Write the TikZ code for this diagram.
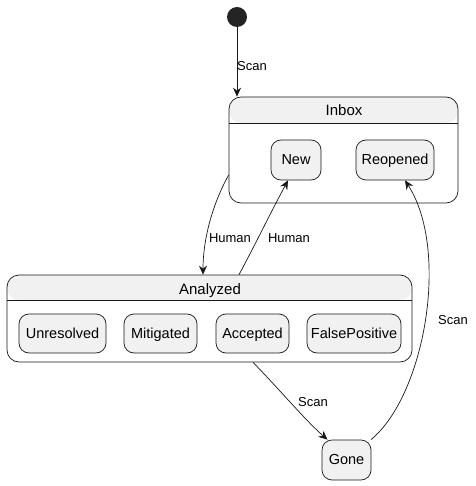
\documentclass[tikz,border=0pt]{standalone}
\usepackage{fontspec}
\setmainfont{Liberation Sans}
\usetikzlibrary{arrows.meta}
\definecolor{stfill}{HTML}{F1F1F1}
\definecolor{stline}{HTML}{181818}
\begin{document}
\begin{tikzpicture}[x=1pt,y=-1pt,
  substate/.style={draw=stline, fill=stfill, line width=0.7pt, rounded corners=10pt,
    minimum height=40pt, inner sep=0pt, text height=10.5pt, text depth=1pt,
    font=\fontsize{14.5}{16}\selectfont},
  composite/.style={draw=stline, fill=white, line width=0.7pt, rounded corners=12pt, inner sep=0pt},
  ctitle/.style={font=\fontsize{15}{17}\selectfont, inner sep=0pt, text height=11pt, text depth=1pt},
  trans/.style={draw=stline, line width=0.7pt, -{Stealth[length=9pt,width=8pt,inset=3pt]}},
  elabel/.style={font=\fontsize{13}{15}\selectfont, inner sep=0pt}
]
\useasboundingbox (0,0) rectangle (475,486);

% start
\node[circle, fill=stline!95, minimum size=20pt, inner sep=0pt] (start) at (237,17) {};

% Inbox composite
\node[composite, minimum width=229pt, minimum height=106pt,
  path picture={\fill[stfill] (path picture bounding box.north west) rectangle ([yshift=-26pt]path picture bounding box.north east);
  \draw[stline, line width=0.7pt] ([yshift=-26pt]path picture bounding box.north west) -- ([yshift=-26pt]path picture bounding box.north east);}]
  (inbox) at (343.5,150) {};
\node[ctitle] (inboxt) at (344,110.5) {Inbox};
\node[substate, minimum width=50pt] (new) at (296,160) {New};
\node[substate, minimum width=78pt] (reopened) at (395,160) {Reopened};

% Analyzed composite
\node[composite, minimum width=405pt, minimum height=87pt,
  path picture={\fill[stfill] (path picture bounding box.north west) rectangle ([yshift=-25pt]path picture bounding box.north east);
  \draw[stline, line width=0.7pt] ([yshift=-25pt]path picture bounding box.north west) -- ([yshift=-25pt]path picture bounding box.north east);}]
  (analyzed) at (209.5,318.5) {};
\node[ctitle] (analyzedt) at (210,289.5) {Analyzed};
\node[substate, minimum width=87pt, minimum height=39pt] (unresolved) at (62.5,333.5) {Unresolved};
\node[substate, minimum width=73pt, minimum height=39pt] (mitigated) at (160.5,333.5) {Mitigated};
\node[substate, minimum width=73pt, minimum height=39pt] (accepted) at (252.5,333.5) {Accepted};
\node[substate, minimum width=94pt, minimum height=39pt] (falsepos) at (354,333.5) {FalsePositive};

% Gone
\node[substate, minimum width=49pt] (gone) at (346.5,460) {Gone};

% transitions
\draw[trans] (start.south) -- (start.south |- inbox.north);
\node[elabel] (l1) at (252,66) {Scan};

\draw[trans] ([yshift=-25pt]inbox.west) .. controls (212,205) and (203,240) .. ([xshift=-6.5pt]analyzed.north);
\node[elabel] (l2) at (230,238) {Human};

\draw[trans] ([xshift=29.5pt]analyzed.north) .. controls (255,245) and (273,208) .. ([xshift=-8pt]new.south);
\node[elabel] (l3) at (289,238) {Human};

\draw[trans] ([xshift=43.5pt]analyzed.south) .. controls (280,390) and (305,420) .. ([xshift=-19pt]gone.north);
\node[elabel] (l4) at (313,402) {Scan};

\draw[trans] ([xshift=24.5pt]gone.north) .. controls (425,395) and (450,250) .. ([xshift=10pt]reopened.south);
\node[elabel] (l5) at (453,320) {Scan};
\end{tikzpicture}
\end{document}
